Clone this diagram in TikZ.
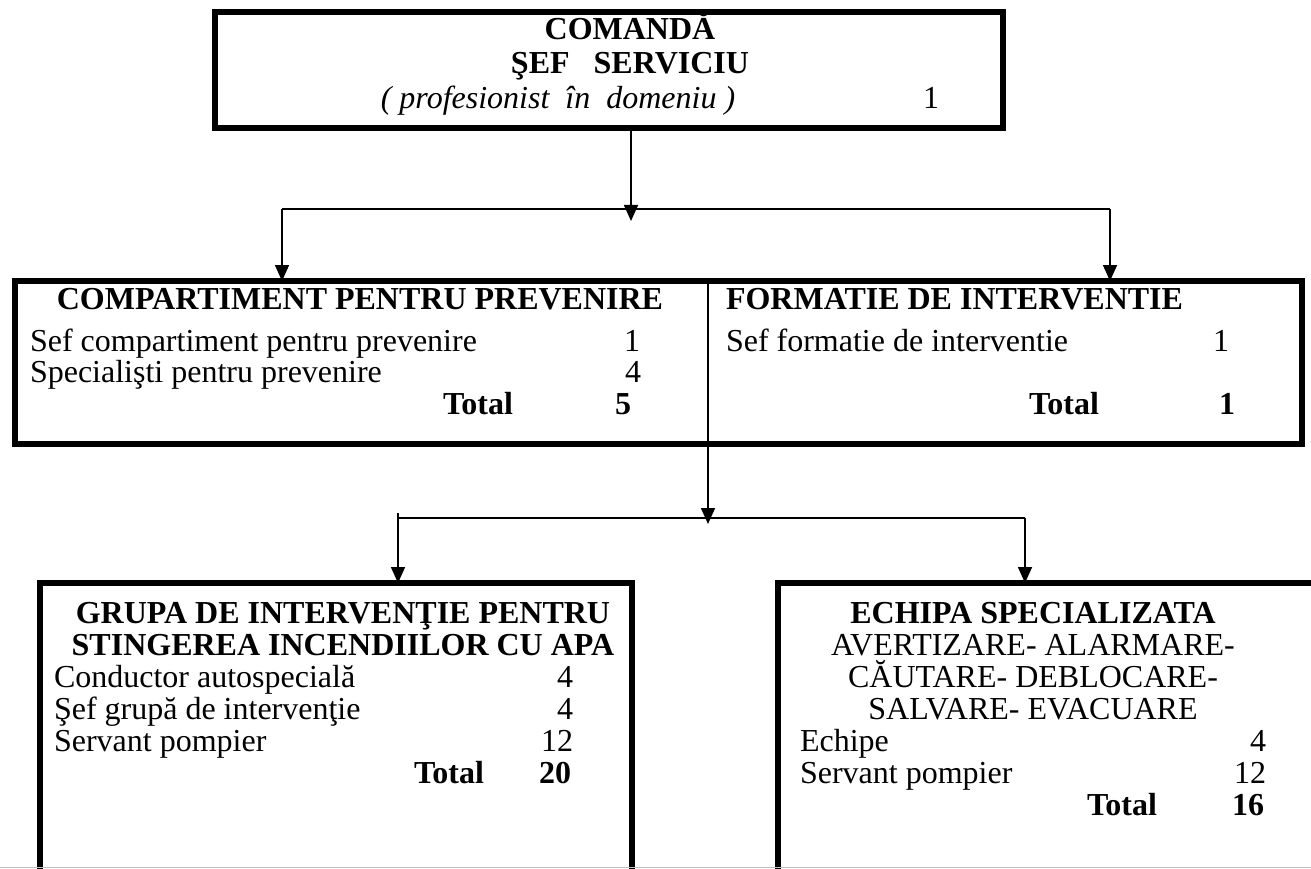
\documentclass[tikz,border=0pt]{standalone}
\usepackage{fontspec}
\setmainfont{Liberation Serif}
\usetikzlibrary{arrows.meta}
\begin{document}
\begin{tikzpicture}[x=1pt,y=-1pt,
  box/.style={draw, line width=6pt, inner sep=0pt, outer sep=0pt, anchor=north west},
  txt/.style={inner sep=0pt, outer sep=0pt, font=\fontsize{32}{32}\selectfont},
  bt/.style={inner sep=0pt, outer sep=0pt, font=\fontsize{32}{32}\selectfont\bfseries},
  it/.style={inner sep=0pt, outer sep=0pt, font=\fontsize{32}{32}\selectfont\itshape},
  conn/.style={line width=1.6pt},
  arr/.style={conn, -{Triangle[width=14pt,length=16pt]}},
  thinline/.style={line width=2pt}
]
\useasboundingbox (0,0) rectangle (1311,869);
\clip (0,0) rectangle (1311,869);

% top box
\node[box, minimum width=788pt, minimum height=116pt] (top) at (215,12) {};
\node[bt, anchor=base] (t1) at (630,40) {COMANDĂ};
\node[bt, anchor=base] (t2) at (630,74) {ŞEF\ \ \ SERVICIU};
\node[it, anchor=base] (t3) at (558,109) {( profesionist\ \ în\ \ domeniu )};
\node[txt, anchor=base] (t4) at (931,109) {1};

% middle box
\node[box, minimum width=1287pt, minimum height=163pt] (mid) at (15,281) {};
\coordinate (dt) at (708,281);
\coordinate (db) at (708,444);
\draw[thinline] (dt) -- (db);

\node[bt, anchor=base] (m1) at (360,309) {COMPARTIMENT PENTRU PREVENIRE};
\node[txt, anchor=base west] (m2) at (30,351) {Sef compartiment pentru prevenire};
\node[txt, anchor=base east] (m2n) at (640,351) {1};
\node[txt, anchor=base west] (m3) at (30,382) {Specialişti pentru prevenire};
\node[txt, anchor=base east] (m3n) at (641,382) {4};
\node[bt, anchor=base west] (m4) at (443,414) {Total};
\node[bt, anchor=base east] (m4n) at (631,414) {5};

\node[bt, anchor=base west] (r1) at (726,309) {FORMATIE DE INTERVENTIE};
\node[txt, anchor=base west] (r2) at (726,351) {Sef formatie de interventie};
\node[txt, anchor=base east] (r2n) at (1229,351) {1};
\node[bt, anchor=base west] (r4) at (1029,414) {Total};
\node[bt, anchor=base east] (r4n) at (1235,414) {1};

% bottom boxes
\node[box, minimum width=592pt, minimum height=320pt] (bl) at (40,583) {};
\node[box, minimum width=540pt, minimum height=320pt] (br) at (778,583) {};

\node[bt, anchor=base] (b1) at (343,623) {GRUPA DE INTERVENŢIE PENTRU};
\node[bt, anchor=base] (b2) at (343,655) {STINGEREA INCENDIILOR CU APA};
\node[txt, anchor=base west] (b3) at (54,687) {Conductor autospecială};
\node[txt, anchor=base east] (b3n) at (573,687) {4};
\node[txt, anchor=base west] (b4) at (54,719) {Şef grupă de intervenţie};
\node[txt, anchor=base east] (b4n) at (573,719) {4};
\node[txt, anchor=base west] (b5) at (54,751) {Servant pompier};
\node[txt, anchor=base east] (b5n) at (573,751) {12};
\node[bt, anchor=base west] (b6) at (414,783) {Total};
\node[bt, anchor=base east] (b6n) at (571,783) {20};

\node[bt, anchor=base] (e1) at (1033,623) {ECHIPA SPECIALIZATA};
\node[txt, anchor=base] (e2) at (1033,655) {AVERTIZARE- ALARMARE-};
\node[txt, anchor=base] (e3) at (1033,687) {CĂUTARE- DEBLOCARE-};
\node[txt, anchor=base] (e4) at (1033,719) {SALVARE- EVACUARE};
\node[txt, anchor=base west] (e5) at (800,751) {Echipe};
\node[txt, anchor=base east] (e5n) at (1266,751) {4};
\node[txt, anchor=base west] (e6) at (800,783) {Servant pompier};
\node[txt, anchor=base east] (e6n) at (1266,783) {12};
\node[bt, anchor=base west] (e7) at (1087,815) {Total};
\node[bt, anchor=base east] (e7n) at (1264,815) {16};

% connectors level 1
\coordinate (j1) at (631,209);
\coordinate (j1tip) at (631,221);
\coordinate (hl) at (282,209);
\coordinate (hr) at (1110,209);
\draw[arr] (top.south -| j1) -- (j1tip);
\draw[conn] (hl) -- (hr);
\draw[arr] (hl) -- (hl |- mid.north);
\draw[arr] (hr) -- (hr |- mid.north);

% connectors level 2
\coordinate (j2tip) at (708,524);
\coordinate (gl) at (398,518);
\coordinate (glt) at (398,513);
\coordinate (gr) at (1025,518);
\draw[arr] (db) -- (j2tip);
\draw[conn] (gl) -- (gr);
\draw[arr] (glt) -- (glt |- bl.north);
\draw[arr] (gr) -- (gr |- br.north);

% page edge line
\draw[gray!50, line width=1.5pt] (0,867.5) -- (1311,867.5);
\end{tikzpicture}
\end{document}
